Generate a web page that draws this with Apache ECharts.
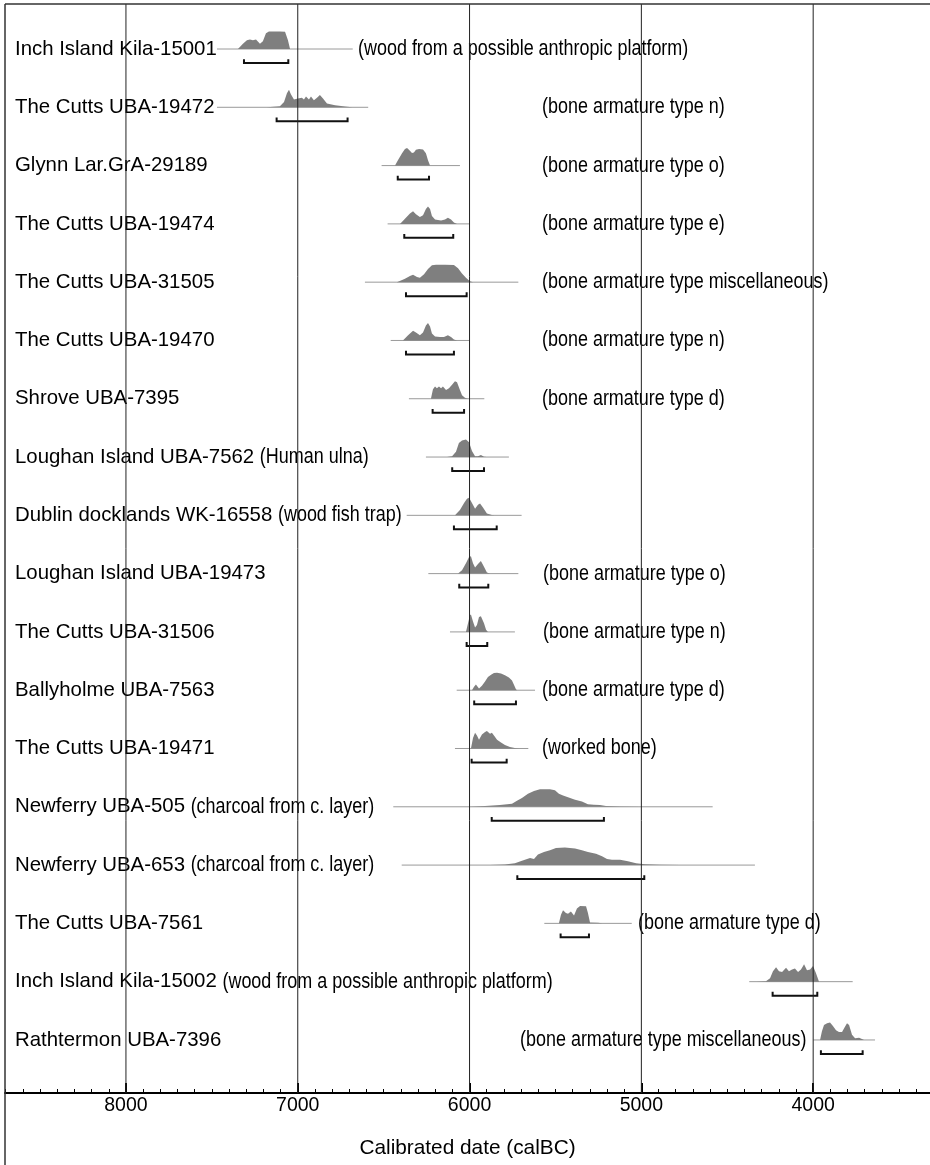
<!DOCTYPE html>
<html>
<head>
<meta charset="utf-8">
<script src="https://cdn.jsdelivr.net/npm/echarts@6/dist/echarts.min.js"></script>
<style>
html,body{margin:0;padding:0;background:#fff;}
#chart{width:930px;height:1165px;}
</style>
</head>
<body>
<div id="chart"></div>
<script>
// ---------------- data ----------------
const labels = ['Inch Island Kila-15001', 'The Cutts UBA-19472', 'Glynn Lar.GrA-29189', 'The Cutts UBA-19474',
  'The Cutts UBA-31505', 'The Cutts UBA-19470', 'Shrove UBA-7395', 'Loughan Island UBA-7562',
  'Dublin docklands WK-16558', 'Loughan Island UBA-19473', 'The Cutts UBA-31506', 'Ballyholme UBA-7563',
  'The Cutts UBA-19471', 'Newferry UBA-505', 'Newferry UBA-653', 'The Cutts UBA-7561',
  'Inch Island Kila-15002', 'Rathtermon UBA-7396'];

const notes = ['(wood from a possible anthropic platform)', '(bone armature type n)', '(bone armature type o)',
  '(bone armature type e)', '(bone armature type miscellaneous)', '(bone armature type n)', '(bone armature type d)',
  '(Human ulna)', '(wood fish trap)', '(bone armature type o)', '(bone armature type n)', '(bone armature type d)',
  '(worked bone)', '(charcoal from c. layer)', '(charcoal from c. layer)', '(bone armature type d)',
  '(wood from a possible anthropic platform)', '(bone armature type miscellaneous)'];

// full plotted range of each likelihood (calBC, older -> younger)
const spans = [[7470, 6680], [7470, 6590], [6512, 6056], [6477, 5998], [6609, 5716], [6459, 6002],
  [6353, 5914], [6254, 5771], [6366, 5697], [6240, 5716], [6114, 5736], [6075, 5619], [6085, 5658],
  [6444, 4585], [6395, 4339], [5565, 5056], [4372, 3770], [3999, 3640]];

// 95.4% ranges (brackets)
const ranges95 = [[7313, 7055], [7123, 6710], [6418, 6236], [6380, 6095], [6370, 6017], [6370, 6091],
  [6215, 6032], [6101, 5916], [6091, 5842], [6060, 5891], [6017, 5897], [5973, 5730], [5988, 5784],
  [5871, 5218], [5722, 4983], [5470, 5305], [4236, 3976], [3955, 3712]];

// probability distributions: [calBC, relative density]
const curves = [
  [[7348,0],[7319,0.3],[7296,0.5],[7278,0.55],[7261,0.5],[7243,0.55],[7220,0.3],[7203,0.45],[7185,0.9],[7168,1],[7104,1],[7074,0.98],[7057,0.5],[7045,0]],
  [[7179,0],[7104,0.06],[7080,0.3],[7063,0.8],[7051,1],[7040,0.75],[7022,0.45],[6999,0.5],[6976,0.55],[6964,0.45],[6952,0.62],[6935,0.45],[6923,0.62],[6906,0.4],[6888,0.55],[6871,0.7],[6853,0.5],[6830,0.22],[6783,0.12],[6725,0.05],[6684,0]],
  [[6434,0],[6417,0.3],[6393,0.7],[6376,0.95],[6364,1],[6353,0.9],[6335,0.72],[6324,0.75],[6312,0.9],[6294,0.95],[6271,0.92],[6254,0.7],[6242,0.3],[6230,0]],
  [[6405,0],[6376,0.3],[6347,0.6],[6329,0.72],[6312,0.55],[6289,0.4],[6271,0.5],[6254,0.85],[6242,1],[6230,0.85],[6219,0.45],[6201,0.25],[6184,0.22],[6166,0.2],[6143,0.25],[6126,0.35],[6108,0.25],[6091,0.08],[6073,0]],
  [[6423,0],[6376,0.2],[6347,0.35],[6329,0.42],[6306,0.3],[6289,0.25],[6265,0.45],[6242,0.75],[6219,0.97],[6195,1],[6143,1],[6091,0.98],[6067,0.8],[6044,0.5],[6021,0.25],[5998,0.05],[5980,0]],
  [[6388,0],[6358,0.3],[6329,0.55],[6312,0.45],[6289,0.3],[6271,0.45],[6254,0.85],[6242,1],[6230,0.8],[6219,0.4],[6201,0.22],[6172,0.2],[6149,0.2],[6126,0.3],[6108,0.2],[6091,0.06],[6073,0]],
  [[6225,0],[6213,0.55],[6201,0.7],[6190,0.6],[6178,0.7],[6166,0.6],[6155,0.7],[6137,0.5],[6120,0.6],[6102,0.8],[6085,1],[6073,0.95],[6056,0.5],[6044,0.2],[6027,0.06],[6009,0]],
  [[6131,0],[6102,0.05],[6079,0.3],[6062,0.8],[6044,0.95],[6021,1],[6003,0.85],[5986,0.35],[5968,0.05],[5951,0.05],[5934,0.12],[5916,0.02],[5899,0]],
  [[6085,0],[6056,0.3],[6032,0.7],[6015,0.95],[6003,1],[5986,0.7],[5968,0.38],[5951,0.6],[5939,0.68],[5922,0.45],[5899,0.1],[5870,0.02],[5852,0]],
  [[6067,0],[6044,0.2],[6021,0.6],[6003,0.95],[5992,1],[5980,0.6],[5968,0.35],[5951,0.55],[5934,0.72],[5916,0.4],[5899,0.06],[5881,0]],
  [[6021,0],[6009,0.5],[5998,0.95],[5992,1],[5980,0.6],[5968,0.25],[5957,0.4],[5945,0.85],[5934,0.9],[5916,0.5],[5904,0.12],[5893,0]],
  [[5986,0],[5974,0.2],[5963,0.33],[5945,0.1],[5928,0.25],[5910,0.5],[5893,0.75],[5875,0.88],[5858,0.98],[5840,1],[5817,0.95],[5794,0.85],[5771,0.72],[5753,0.55],[5741,0.3],[5730,0.05],[5724,0]],
  [[5992,0],[5980,0.6],[5968,0.9],[5957,0.75],[5945,0.5],[5928,0.8],[5910,0.95],[5899,1],[5881,0.85],[5870,0.9],[5858,0.75],[5840,0.5],[5817,0.35],[5794,0.2],[5765,0.08],[5730,0.02],[5712,0]],
  [[5998,0],[5910,0.04],[5823,0.1],[5753,0.18],[5724,0.35],[5695,0.5],[5660,0.75],[5625,0.9],[5590,1],[5532,1],[5503,0.95],[5480,0.75],[5456,0.65],[5427,0.55],[5386,0.4],[5346,0.3],[5311,0.15],[5276,0.12],[5241,0.1],[5206,0.04],[5124,0.02],[5008,0]],
  [[5881,0],[5794,0.03],[5736,0.1],[5695,0.25],[5648,0.4],[5625,0.35],[5602,0.6],[5567,0.75],[5532,0.85],[5497,0.98],[5445,1],[5386,0.95],[5346,0.85],[5311,0.75],[5264,0.65],[5229,0.5],[5200,0.35],[5171,0.3],[5124,0.3],[5078,0.22],[5031,0.1],[4979,0.05],[4892,0.02],[4775,0]],
  [[5480,0],[5468,0.5],[5456,0.75],[5439,0.6],[5427,0.55],[5410,0.68],[5392,0.45],[5375,0.85],[5357,1],[5322,0.98],[5311,0.6],[5299,0.05],[5252,0.03],[5229,0]],
  [[4327,0],[4275,0.03],[4251,0.2],[4234,0.6],[4216,0.82],[4199,0.6],[4181,0.55],[4158,0.8],[4141,0.6],[4123,0.7],[4106,0.75],[4088,0.55],[4071,0.7],[4053,1],[4036,0.65],[4018,0.7],[4001,0.9],[3984,0.5],[3966,0]],
  [[3960,0],[3949,0.5],[3937,0.85],[3919,0.95],[3902,1],[3885,0.8],[3867,0.55],[3850,0.45],[3832,0.45],[3815,0.75],[3803,0.95],[3791,0.85],[3774,0.3],[3756,0.1],[3733,0.12],[3716,0.06],[3704,0]]
];

// axis tick values (calBC)
const majorTicks = [8000, 7000, 6000, 5000, 4000];
const axisTitle = 'Calibrated date (calBC)';

// ---------------- layout / style ----------------
const X_MIN = 3320, X_MAX = 8704;     // visible range of the time axis
// pixel x of notes that sit in their own column; null = directly after the label
const noteX = [358, 542, 542, 542, 542, 542, 542, null, null, 543, 543, 542, 542, null, null, 638, null, 520];
const LABEL_FONT = '"Liberation Sans", Arial, sans-serif';
const LABEL_SIZE = 20.4, NOTE_SIZE = 21.5, NOTE_SCALE = 0.835;
const PEAK = 0.30;      // peak height in row units
const BR_OFF = 0.24;    // bracket offset below baseline, row units
const BR_TICK = 0.065;  // bracket end tick, row units

const minorTicks = [];
for (let v = 3400; v <= 8700; v += 100) if (v % 1000 !== 0) minorTicks.push(v);

const measureCtx = document.createElement('canvas').getContext('2d');
measureCtx.font = LABEL_SIZE + 'px "Liberation Sans", Arial, sans-serif';

const chart = echarts.init(document.getElementById('chart'), null, {renderer: 'canvas'});

function renderRow(params, api) {
  const i = params.dataIndex;
  const children = [];
  const c = api.coord;
  const a = c([spans[i][0], i]), b = c([spans[i][1], i]);
  children.push({type: 'line', shape: {x1: a[0], y1: a[1], x2: b[0], y2: b[1]},
    style: {stroke: '#9a9a9a', lineWidth: 1}});
  const pts = curves[i].map(p => c([p[0], i - p[1] * PEAK]));
  children.push({type: 'polygon', shape: {points: pts}, style: {fill: '#7f7f7f', stroke: null}});
  const r = ranges95[i];
  const br = [c([r[0], i + BR_OFF - BR_TICK]), c([r[0], i + BR_OFF]), c([r[1], i + BR_OFF]), c([r[1], i + BR_OFF - BR_TICK])];
  children.push({type: 'polyline', shape: {points: br}, style: {stroke: '#111', lineWidth: 2, fill: null}});
  const y = a[1];
  children.push({type: 'text', style: {x: 15, y: y, text: labels[i], verticalAlign: 'middle', align: 'left',
    fontFamily: LABEL_FONT, fontSize: LABEL_SIZE, fill: '#000'}});
  const nx = noteX[i] == null ? 15 + measureCtx.measureText(labels[i] + ' ').width : noteX[i];
  children.push({type: 'text', x: nx, y: y, scaleX: NOTE_SCALE, scaleY: 1,
    style: {x: 0, y: 0, text: notes[i], verticalAlign: 'middle', align: 'left',
      fontFamily: LABEL_FONT, fontSize: NOTE_SIZE, fill: '#000'}});
  return {type: 'group', children: children};
}

function renderGrid(params, api) {
  const cs = params.coordSys;
  const x = api.coord([majorTicks[params.dataIndex], 0])[0];
  return {type: 'line', shape: {x1: x, y1: cs.y, x2: x, y2: cs.y + cs.height},
    style: {stroke: '#222', lineWidth: 1}};
}

const option = {
  backgroundColor: '#fff',
  animation: false,
  grid: {left: 5, right: 0, top: 4, bottom: 72, containLabel: false},
  xAxis: [{
    type: 'value', min: X_MIN, max: X_MAX, inverse: true, position: 'bottom',
    axisLine: {show: true, onZero: false, lineStyle: {color: '#000', width: 2}},
    axisTick: {show: true, inside: true, length: 10, customValues: majorTicks, lineStyle: {color: '#000', width: 2}},
    splitLine: {show: false},
    axisLabel: {customValues: majorTicks, fontSize: 19.5, color: '#000', margin: 3, fontFamily: LABEL_FONT,
      formatter: v => String(v)},
    name: axisTitle, nameLocation: 'middle', nameGap: 45,
    nameTextStyle: {fontSize: 20.8, color: '#000', fontFamily: LABEL_FONT}
  }, {
    type: 'value', min: X_MIN, max: X_MAX, inverse: true, position: 'bottom', offset: 0,
    axisLine: {show: false, onZero: false},
    axisTick: {show: true, inside: true, length: 4, customValues: minorTicks, lineStyle: {color: '#000', width: 1}},
    axisLabel: {show: false},
    splitLine: {show: false}
  }],
  yAxis: {
    type: 'value', min: -0.772, max: 17.91, inverse: true, show: false,
    splitLine: {show: false}
  },
  series: [{
    type: 'custom', clip: false, renderItem: renderRow, z: 2,
    data: labels.map((_, i) => [spans[i][0], i])
  }, {
    type: 'custom', clip: false, renderItem: renderGrid, z: 3,
    data: majorTicks.map(v => [v, 0])
  }],
  graphic: [
    {type: 'line', z: 101, shape: {x1: 5, y1: 4, x2: 930, y2: 4}, style: {stroke: '#333', lineWidth: 1.5}},
    {type: 'line', z: 101, shape: {x1: 5, y1: 4, x2: 5, y2: 1165}, style: {stroke: '#333', lineWidth: 1.5}}
  ]
};
chart.setOption(option);
</script>
</body>
</html>
